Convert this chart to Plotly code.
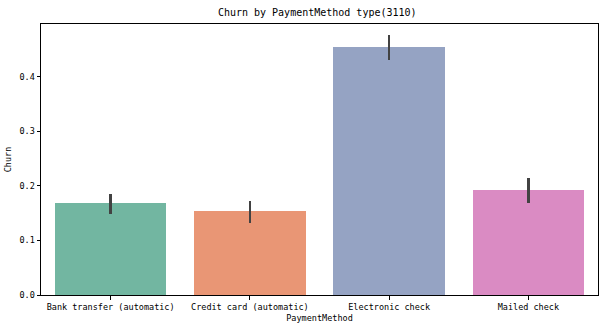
import plotly.graph_objects as go

categories = ["Bank transfer (automatic)", "Credit card (automatic)", "Electronic check", "Mailed check"]
churn_rate = [0.168, 0.154, 0.454, 0.192]
ci_low = [0.148, 0.132, 0.430, 0.169]
ci_high = [0.186, 0.173, 0.476, 0.214]
colors = ["#72b6a1", "#e99675", "#95a3c3", "#da8bc3"]
y_ticks = [0.0, 0.1, 0.2, 0.3, 0.4]

err_plus = [h - v for h, v in zip(ci_high, churn_rate)]
err_minus = [v - l for v, l in zip(churn_rate, ci_low)]

FONT = "DejaVu Sans Mono"

fig = go.Figure()
fig.add_trace(go.Bar(
    x=list(range(len(categories))),
    y=churn_rate,
    marker=dict(color=colors, line=dict(width=0)),
    width=0.8,
    error_y=dict(type="data", array=err_plus, arrayminus=err_minus,
                 symmetric=False, color="#424242", thickness=2.6, width=0),
    showlegend=False,
))

fig.update_layout(
    width=606, height=330,
    margin=dict(l=36, r=7, t=24, b=35),
    paper_bgcolor="white", plot_bgcolor="white",
    bargap=0,
    font=dict(family=FONT, size=8.5, color="black"),
    title=dict(text="Churn by PaymentMethod type(3110)", x=0.5235, xanchor="center",
               y=1 - 12 / 330, yanchor="middle",
               font=dict(family=FONT, size=10, color="black")),
    xaxis=dict(
        range=[-0.5, 3.5],
        tickmode="array", tickvals=list(range(len(categories))), ticktext=categories,
        showline=True, mirror=True, linecolor="black", linewidth=1,
        ticks="outside", ticklen=3.5, tickcolor="black",
        showgrid=False, zeroline=False,
        title=dict(text="PaymentMethod", standoff=4, font=dict(family=FONT, size=8.5)),
    ),
    yaxis=dict(
        range=[0, 0.4966],
        tickmode="array", tickvals=y_ticks, ticktext=[f"{v:.1f}" for v in y_ticks],
        showline=True, mirror=True, linecolor="black", linewidth=1,
        ticks="outside", ticklen=3.5, tickcolor="black",
        showgrid=False, zeroline=False,
        title=dict(text="Churn", standoff=6, font=dict(family=FONT, size=8.5)),
    ),
)

fig.write_html("out.html")
